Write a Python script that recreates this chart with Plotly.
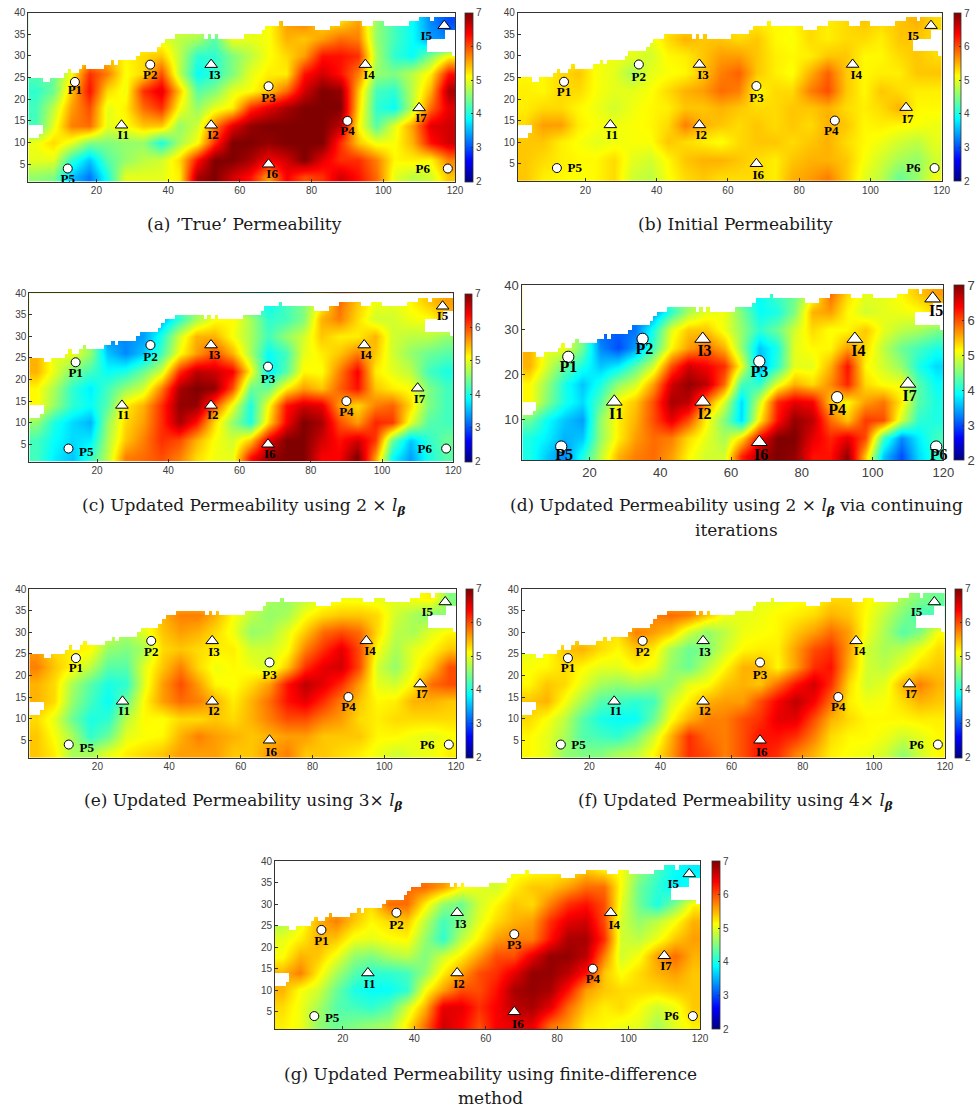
import plotly.graph_objects as go

W, H = 979, 1109

# Estimated field values. Rows run top to bottom, columns left to right.
x_centers = [3, 8, 13, 18, 23, 28, 33, 38, 43, 48, 53, 58, 63, 68, 73, 78, 83, 88, 93, 98, 103, 108, 113, 118]
y_centers = [38, 34, 30, 26, 22, 18, 14, 10, 6, 2]

true_perm = [
    [4.5,4.5,4.5,4.5,4.8,5,5,5,5,5,5,5,5,5.1,5.6,5.75,5.3,5.3,5.6,4.6,4.2,3.9,3.3,3.0],
    [4.5,4.5,4.5,4.8,5.1,5.1,5.0,5.0,4.8,4.7,4.3,5.05,5.0,5.1,5.5,5.4,5.6,5.85,5.75,4.6,4.2,3.9,3.4,3.3],
    [4.5,4.5,5,5.3,5.4,5.15,5.3,5.4,4.8,4.1,4.1,4.5,4.8,5.1,5.3,5.6,6.3,6.3,6.15,4.7,4.1,3.9,4.5,5.1],
    [4.3,4.4,5.1,6.15,5.75,5.1,5.3,6.0,4.8,3.9,4.1,4.5,5.0,5.2,5.2,6.3,6.6,6.3,5.75,4.6,4.5,4.8,5.2,6.3],
    [4.1,4.4,5.4,6.3,5.3,5.05,6.15,6.5,5.4,4.3,4.5,5.0,5.1,5.4,5.85,6.6,7,6.9,5.4,4.2,4.1,4.8,5.5,6.8],
    [4.2,4.8,5.6,6.0,5.0,5.2,5.85,6.15,5.1,4.6,5.0,5.2,6.15,6.5,6.8,7,7,7,5.3,4.1,3.9,4.8,5.85,6.5],
    [4.2,5.0,5.75,5.85,5.0,5.1,5.4,5.4,4.6,4.9,5.75,6.5,6.9,7,7,7,7,6.7,5.15,4.3,5.0,5.6,6.5,6.6],
    [5.05,5.3,5.0,4.5,4.5,4.6,4.6,4.0,4.7,5.1,6.15,7,7,6.9,7,7,7,6.15,5.4,5.05,5.1,5.5,6.3,6.6],
    [5,5,4.1,3.6,4.3,4.6,4.8,4.9,5.3,6.3,7,7,6.8,6.4,6.6,7,6.5,6.15,6.15,5.75,5.15,5.2,5.15,5.75],
    [4.6,4.5,3.6,3.2,4.0,5,5,5,5.2,6.8,7,6.6,6.3,5.6,6.4,6.0,6.15,6.6,6.3,5.85,5,4.8,4.9,5.4],
]
initial_perm = [
    [5.15,5.15,5.15,5.15,5.15,5.15,5.15,5.15,5.15,5.2,5.3,5.3,5.2,5.2,5.15,5.15,5.3,5.2,5.3,5.4,5.3,5.4,5.5,5.3],
    [5.1,5.1,5.1,5.1,5.1,5.1,5.05,5.0,5.3,5.5,5.4,5.4,5.3,5.4,5.15,5.1,5.3,5.2,5.3,5.3,5.2,5.4,5.4,5.3],
    [5.1,5.1,5.1,5.15,5.05,5.05,5.0,4.9,5.15,5.2,5.4,5.6,5.6,5.4,5.2,5.15,5.2,5.4,5.4,5.15,5.15,5.3,5.4,5.3],
    [5.15,5.15,5.3,5.4,5.1,5.0,4.7,5.0,5.1,5.15,5.4,5.75,5.9,5.4,5.2,5.1,5.5,5.9,5.4,5.15,5.2,5.2,5.4,5.4],
    [5.2,5.15,5.3,5.3,5.1,5.0,5.0,5.1,5.3,5.5,5.6,5.85,5.75,5.15,5.3,5.3,5.75,6.0,5.4,5.15,5.4,5.3,5.2,5.2],
    [5.2,5.3,5.3,5.15,5.05,4.9,5.05,5.15,5.2,5.4,5.4,5.5,5.4,5.3,5.3,5.4,5.4,5.5,5.3,5.2,5.3,5.5,5.15,5.15],
    [5.3,5.6,5.6,5.2,5.1,5.05,5.1,5.15,5.3,5.75,5.5,5.4,5.3,5.4,5.3,5.4,5.3,5.5,5.4,5.15,5.2,5.15,5.1,5.05],
    [5.4,5.4,5.2,5.1,5.0,5.05,5.1,5.1,5.4,5.3,5.2,5.1,5.3,5.4,5.4,5.3,5.4,5.5,5.3,5.15,5.05,4.9,4.8,5.0],
    [5.4,5.3,5.2,5.15,5.15,5.3,5.0,4.9,5.15,5.4,5.5,5.5,5.4,5.3,5.2,5.4,5.5,5.5,5.4,5.1,4.9,4.7,4.6,4.9],
    [5.4,5.2,5.15,5.1,5.15,5.3,4.9,4.8,5.1,5.3,5.4,5.3,5.3,5.3,5.2,5.5,5.6,5.75,5.4,5.0,4.8,4.4,4.6,5.05],
]
updated_2x = [
    [5,5,5,5,4.8,4.8,4.5,4.5,4.4,4.5,4.8,4.6,4.0,3.9,4.2,4.5,5.1,5.85,5.4,5.05,5.0,5.15,5.4,5.6],
    [5,5,5,4.8,4.5,4,3.5,3.5,4.1,4.7,5.1,5.15,4.7,4.1,4.2,4.5,5.5,5.75,5.3,4.9,4.9,5.05,5.1,5.4],
    [5,5,5,4.6,3.3,3.3,3.4,4.0,4.9,5.5,5.5,5.1,4.7,4.2,4.6,4.9,5.4,5.2,5.2,5.5,4.9,4.8,4.8,4.6],
    [5.5,5.0,5.05,4.6,3.6,3.3,3.6,4.2,5.1,5.6,6.0,5.5,4.7,3.9,4.2,5.0,5.2,5.4,5.75,5.4,4.9,4.6,4.4,4.3],
    [5.5,5.0,4.5,4.2,3.9,4.0,4.4,4.9,6.15,6.7,6.6,6.4,5.15,3.8,4.3,5.15,5.1,5.75,6.4,5.2,5.0,4.8,4.2,4.0],
    [5.15,4.7,4.1,3.8,4.2,4.6,4.9,5.75,6.8,7,6.9,6.0,4.4,4.4,5.2,5.6,5.4,5.9,6.3,5.4,5.2,5.1,4.5,4.2],
    [5.15,4.6,4.1,3.9,4.3,5.2,5.5,6.15,6.9,6.9,6.0,5.05,4.0,5.1,6.3,6.6,6.5,5.6,5.3,5.75,5.9,5.3,4.5,4.2],
    [4.6,4.0,3.7,3.5,4.6,5.3,5.6,6.15,6.8,6.3,5.3,4.6,4.0,5.3,6.4,7,6.8,6.0,5.6,6.2,6.1,5.0,4.3,4.2],
    [4.2,3.9,3.7,3.8,4.7,5.4,5.75,6.15,6.0,5.5,5.1,4.9,5.4,6.5,7,7,6.6,6.3,6.6,6.1,4.4,3.6,4.1,4.4],
    [4.2,3.8,3.6,4.1,4.8,5.75,5.85,6.0,5.75,5.3,5.05,5.0,6.3,6.9,7,7,6.4,6.4,7,5.6,3.9,3.4,4.0,4.3],
]
updated_2x_cont = [
    [5.15,5,5,5,4.8,4.8,4.5,4.5,4.4,4.5,4.8,4.6,4.0,3.9,4.2,4.4,5.0,5.85,5.3,5.0,5.0,5.15,5.4,5.6],
    [5,5,5,4.8,4.4,3.8,3.2,3.4,4.1,4.7,5.0,5.05,4.5,3.9,4.0,4.5,5.5,5.6,5.15,4.9,5.0,5.05,5.1,5.3],
    [5,5,5,4.5,3.1,3.1,3.2,4.0,5.0,5.4,5.4,5.05,4.6,4.1,4.4,4.9,5.3,5.1,5.15,5.4,5.0,4.8,4.7,4.5],
    [5.5,5.0,5.05,4.4,3.3,3.0,3.4,4.2,5.15,5.6,5.85,5.5,4.6,3.6,4.0,5.0,5.15,5.15,5.6,5.3,4.8,4.4,4.2,4.0],
    [5.5,4.9,4.4,4.0,3.6,3.8,4.3,4.9,6.0,6.6,6.4,6.15,5.05,3.5,4.1,5.0,5.0,5.5,6.3,5.15,4.9,4.6,4.0,3.7],
    [5.15,4.6,4.0,3.6,4.0,4.6,4.9,5.6,6.6,6.9,6.7,5.85,4.2,4.1,5.0,5.5,5.3,5.7,6.2,5.3,5.1,5.05,4.3,3.9],
    [5.15,4.5,4.0,3.7,4.3,5.15,5.4,6.0,6.8,6.7,5.75,4.9,3.7,4.9,6.2,6.5,6.4,5.4,5.15,5.6,5.8,5.2,4.3,4.0],
    [4.4,3.9,3.6,3.4,4.6,5.2,5.5,6.0,6.5,6.0,5.15,4.5,3.7,5.2,6.3,6.9,6.7,5.85,5.4,6.1,6.0,4.9,4.1,4.0],
    [4.0,3.8,3.5,3.6,4.6,5.2,5.6,5.85,5.75,5.3,5.0,4.7,5.3,6.4,7,7,6.5,6.2,6.5,6.0,4.2,3.3,3.8,4.2],
    [4.0,3.6,3.3,4.0,4.8,5.5,5.75,5.85,5.6,5.15,4.9,4.9,6.2,6.8,7,6.9,6.3,6.3,6.9,5.4,3.6,3.0,3.7,4.1],
]
updated_3x = [
    [5.3,5.3,5.3,5.3,5.15,5,5,5,5.3,5.3,5.15,5.0,5.0,4.7,4.6,4.8,5.0,5.05,5.05,5.0,5.0,5.1,5.2,4.5],
    [5.3,5.3,5.3,5.1,5.0,5,5,5.5,5.75,5.75,5.5,5.1,4.8,4.6,4.7,5.1,5.3,5.4,5.4,5.3,4.9,4.7,4.5,4.6],
    [5.3,5.3,5.3,5.1,4.9,4.7,5.0,5.4,5.6,5.5,5.3,5.05,4.6,4.7,5.0,5.4,5.85,6.0,5.85,5.3,4.8,4.7,5.0,5.15],
    [5.6,5.3,5.2,5.15,4.6,4.5,4.7,5.3,5.4,5.3,5.2,5.2,4.9,4.9,5.1,5.75,6.15,6.5,6.0,5.1,4.7,5.0,5.15,5.4],
    [5.75,5.4,5.15,4.8,4.3,4.3,5.0,5.4,5.75,5.3,5.05,5.15,5.05,4.9,5.4,6.15,6.5,6.6,6.0,4.9,4.6,5.05,5.4,6.0],
    [5.5,5.3,4.7,4.3,4.0,4.1,5.0,5.6,6.0,5.6,5.15,5.1,5.3,5.6,6.3,6.7,6.5,6.15,5.6,5.0,4.9,5.2,5.85,6.0],
    [5.5,5.3,4.6,4.2,3.9,4.4,5.15,5.6,5.85,5.75,5.5,5.2,5.5,5.85,6.3,6.5,6.15,5.75,5.4,5.15,5.2,5.5,5.5,5.4],
    [5.3,5.0,4.4,4.0,4.1,4.8,5.15,5.1,5.3,5.3,5.4,5.3,5.5,5.75,6.0,6.0,5.75,5.6,5.3,5.2,5.3,5.3,5.3,5.3],
    [5.4,5.1,4.7,4.1,4.4,5.0,5.1,5.15,5.5,5.75,5.6,5.5,5.4,5.5,5.6,5.6,5.4,5.4,5.4,5.15,5.15,5.05,5.0,5.1],
    [5.4,5.2,4.7,4.7,5.0,5.2,5.3,5.4,5.6,5.6,5.6,5.4,5.4,5.6,5.75,5.4,5.4,5.3,5.2,5.05,4.9,5.0,5.05,5.2],
]
updated_4x = [
    [5.0,5,5,5.1,5.1,5.1,5.1,5.1,5.3,5.6,5.3,5.05,5.0,5.0,5.0,5.1,5.1,5.3,5.3,5.15,5,4.7,4.5,4.4],
    [5.0,5,5,5.1,5.15,5.15,5.3,5.75,5.85,5.75,5.4,5.05,5.0,5.05,5.15,5.2,5.3,5.5,5.4,5.1,4.8,4.5,4.2,4.2],
    [5.0,5,5.1,5.3,5.3,5.3,5.75,5.6,5.4,4.9,4.6,4.8,5.05,5.1,5.15,5.4,5.6,5.85,5.6,5.05,4.7,4.3,4.5,5.1],
    [5.0,5.1,5.4,5.5,5.3,5.15,5.4,5.2,4.7,4.4,4.5,4.9,5.15,5.2,5.2,5.6,6.0,6.15,5.6,4.9,4.7,4.8,5.05,5.3],
    [5.1,5.15,5.3,5.15,5.0,5.0,5.15,5.05,4.6,4.4,4.8,5.15,5.5,5.5,5.15,5.6,6.15,6.3,5.5,4.9,4.8,5.05,5.3,5.4],
    [5.15,5.4,5.3,5.0,4.7,4.6,4.7,4.6,4.6,5.0,5.1,5.4,5.5,5.4,5.85,6.3,6.6,6.15,5.3,4.9,5.0,5.5,5.75,5.5],
    [5.4,5.5,5.1,4.7,4.3,4.2,4.1,4.2,4.9,5.2,5.5,5.6,5.6,6.0,6.4,6.7,6.4,5.85,5.2,5.05,5.1,5.3,5.5,5.4],
    [5.3,5.1,4.8,4.3,4.0,3.9,3.9,4.4,5.1,5.5,5.75,5.75,6.0,6.15,6.5,6.5,6.0,5.5,5.3,5.15,5.15,5.15,5.2,5.2],
    [5.15,5.0,4.7,4.3,4.2,4.1,4.4,4.9,5.5,6.15,5.85,5.75,6.0,6.3,6.3,6.15,5.75,5.3,5.15,5.15,5.05,4.9,5.0,5.15],
    [5.15,5.0,4.6,4.5,4.5,4.7,4.8,5.15,5.6,6.15,6.0,5.75,6.0,6.3,6.15,5.75,5.5,5.2,5.1,5.05,4.9,4.6,4.9,5.15],
]
finite_diff = [
    [4.6,4.6,4.6,5,5.3,5.3,5.3,5.4,5.75,5.85,5.3,5,5,5.05,5.1,5.15,5.2,5.4,5.2,5.1,4.6,4.2,3.9,3.8],
    [4.8,4.8,5,5.2,5.3,5.3,5.4,5.85,5.85,5.6,5.15,5.0,4.9,5.2,5.4,5.4,5.6,5.85,5.85,5.1,4.4,4.1,3.8,4.0],
    [4.8,4.9,5.1,5.5,5.5,5.3,5.85,5.85,5.2,4.6,4.4,4.9,5.15,5.4,5.3,5.75,6.15,6.3,6.0,5.0,4.4,4.0,4.5,5.15],
    [4.7,5.0,5.5,5.75,5.4,5.15,5.3,5.4,4.8,4.2,4.5,5.0,5.3,5.5,5.6,6.15,6.5,6.6,6.0,4.9,4.6,4.8,5.1,5.5],
    [5.0,5.2,5.5,5.4,5.05,5.0,5.1,5.15,4.6,4.1,4.8,5.2,5.6,5.75,5.75,6.3,6.8,6.8,6.15,4.9,4.8,5.05,5.4,5.6],
    [5.1,5.5,5.4,5.05,4.6,4.5,4.7,4.8,4.5,4.9,5.2,5.6,6.0,6.0,6.5,6.9,6.9,6.7,5.75,4.9,5.1,5.6,5.85,5.5],
    [5.5,5.75,5.2,4.7,4.3,4.1,4.1,4.2,4.6,5.2,5.6,6.0,6.15,6.5,6.9,6.9,6.7,6.3,5.4,5.1,5.3,5.5,5.6,5.4],
    [5.5,5.1,4.9,4.4,4.0,3.9,3.9,4.1,5.1,5.6,6.0,6.0,6.3,6.8,6.9,6.8,6.3,5.6,5.4,5.3,5.3,5.3,5.4,5.4],
    [5.3,5.05,4.7,4.3,4.2,4.1,4.3,4.9,5.5,6.5,6.5,6.15,6.4,6.7,6.8,6.5,5.85,5.4,5.2,5.3,5.1,4.9,5.05,5.4],
    [5.2,5.05,4.6,4.4,4.5,4.6,4.7,5.2,5.85,6.6,6.4,6.0,6.4,6.5,6.5,5.85,5.6,5.2,5.15,5.05,5.0,4.7,5.0,5.2],
]

# Top edge of the reservoir for each grid column 1..119, and cut-outs (x0, x1, y0, y1).
top_edge = [25,25,25,25,24,24,25,25,25,25,26,27,26,26,27,28,27,27,27,27,
            27,28,28,29,28,29,29,29,29,29,30,31,31,31,31,31,32,33,34,34,
            34,35,35,35,35,35,35,35,35,34,35,34,35,34,34,34,34,34,34,34,
            35,35,35,35,35,36,37,37,37,37,38,37,37,37,37,37,37,37,37,37,
            36,36,36,36,37,37,37,38,38,38,38,38,38,37,37,37,38,38,38,37,
            37,37,37,37,37,37,38,38,38,39,39,39,38,39,39,39,39,39,39]
holes = [(1, 4, 11, 14), (4, 5, 12, 14), (117, 120, 34, 36), (112, 120, 31, 34), (119, 120, 30, 31)]

well_names = ["P1", "P2", "P3", "P4", "P5", "P6", "I1", "I2", "I3", "I4", "I5", "I6", "I7"]
well_x = [14, 35, 68, 90, 12, 118, 27, 52, 52, 95, 117, 68, 110]
well_y = [24, 28, 23, 15, 4, 4, 14, 14, 28, 28, 37, 5, 18]

x_ticks = [20, 40, 60, 80, 100, 120]
y_ticks_fine = [5, 10, 15, 20, 25, 30, 35, 40]
y_ticks_coarse = [10, 20, 30, 40]
cbar_ticks = [2, 3, 4, 5, 6, 7]

label_a = [(14,22),(35,25.5),(68,20),(90,12.5),(12,1.3),(111,3.8),(27.5,11.5),(52.5,11.5),(53,25.5),(96,25.5),(112,34.5),(69,2.5),(110.5,15.5)]
label_b = [(14,21.5),(35,25),(68,20),(89,12.5),(17,3.8),(112,3.8),(27.5,11.5),(52.5,11.5),(53,25.5),(96,25.5),(112,34.5),(68.5,2.3),(110.5,15.3)]
label_c = [(14,21.3),(35,25),(68,20),(90,12.3),(17,3),(112,3.8),(27.5,11.5),(52.5,11.5),(53,25.5),(95.5,25.5),(117,34.5),(68.5,2.5),(110.5,15.3)]
label_d = [(14,21.5),(35.5,25.5),(68,20.5),(90,12),(12.8,1.9),(118.7,1.9),(27.5,11),(52.5,11),(52.5,25),(96,25),(118,34),(68.5,2),(110.5,15)]
label_e = [(14,21.5),(35,25.3),(68,20),(90,12.5),(17,3),(112,3.8),(27.5,11.5),(52.5,11.5),(52.5,25.3),(96,25.5),(112,34.5),(68.5,2),(110.5,15.5)]
label_f = [(14,21.5),(35,25.3),(68,20),(90,12.5),(17,3.8),(112,3.8),(27.5,11.5),(52.5,11.5),(52.5,25.3),(96,25.5),(112,34.5),(68.5,2),(110.5,15.5)]
label_g = [(14,21.3),(35,25),(68,20.3),(90,12.5),(17,3.3),(112,3.8),(27.5,11.3),(52.5,11.3),(53,25.3),(96,25),(112.5,34.5),(69,2),(110.5,15.5)]

BETA = "<i>l</i><sub><b><i>β</i></b></sub>"
panels = [
    dict(z=true_perm, labels=label_a, box=(28.3, 455, 12.7, 181.5), cb=(465, 7.5), big=False,
         caption=[("(a) ’True’ Permeability", 244, 224)]),
    dict(z=initial_perm, labels=label_b, box=(517.7, 941.7, 12.7, 181), cb=(954, 7), big=False,
         caption=[("(b) Initial Permeability", 735.5, 224)]),
    dict(z=updated_2x, labels=label_c, box=(29.3, 453.3, 293.3, 461.5), cb=(465, 7), big=False,
         caption=[("(c) Updated Permeability using 2 × " + BETA, 243, 506)]),
    dict(z=updated_2x_cont, labels=label_d, box=(522.3, 943.3, 285, 460), cb=(954.3, 9.5), big=True,
         caption=[("(d) Updated Permeability using 2 × " + BETA + " via continuing", 736, 506),
                  ("iterations", 736, 530)]),
    dict(z=updated_3x, labels=label_e, box=(29.3, 456, 589, 757.5), cb=(465.7, 7), big=False,
         caption=[("(e) Updated Permeability using 3× " + BETA, 243, 801)]),
    dict(z=updated_4x, labels=label_f, box=(521.7, 945, 589, 757.5), cb=(955, 7), big=False,
         caption=[("(f) Updated Permeability using 4× " + BETA, 735, 801)]),
    dict(z=finite_diff, labels=label_g, box=(275, 700, 861, 1029), cb=(711.7, 7.5), big=False,
         caption=[("(g) Updated Permeability using finite-difference", 490, 1074),
                  ("method", 490, 1098)]),
]

JET = [[0, "#000080"], [0.125, "#0000ff"], [0.375, "#00ffff"],
       [0.5, "#80ff80"], [0.625, "#ffff00"], [0.875, "#ff0000"], [1, "#800000"]]
TICK_COLOR = "#404040"
LINE_COLOR = "#333333"

# Fixed margins, large enough that colorbars never push the plot area.
ML, MR, MT, MB = 10, 30, 10, 60
PW, PH = W - ML - MR, H - MT - MB


def px(x):
    return (x - ML) / PW


def py(y):
    return 1 - (y - MT) / PH


# Cells outside the reservoir.
mask_x = [i + 0.5 for i in range(1, 120)]
mask_y = [j + 0.5 for j in range(1, 40)]
mask_z = []
for j in range(1, 40):
    row = []
    for i in range(1, 120):
        out = j + 1 > top_edge[i - 1] or any(a <= i < b and c <= j < d for a, b, c, d in holes)
        row.append(1 if out else None)
    mask_z.append(row)

fig = go.Figure()
layout = dict(width=W, height=H, autosize=False, paper_bgcolor="white", plot_bgcolor="white",
              margin=dict(l=ML, r=MR, t=MT, b=MB, pad=0, autoexpand=False), showlegend=False)
annotations = []

for k, p in enumerate(panels, start=1):
    x0, x1, y0, y1 = p["box"]
    tick_size = 13 if p["big"] else 10
    ax = "" if k == 1 else str(k)
    xref, yref = "x" + ax, "y" + ax
    ca = "coloraxis" + ax
    cb_left, cb_w = p["cb"]
    layout["xaxis" + ax] = dict(
        domain=[px(x0), px(x1)], range=[1, 120], anchor=yref, tickvals=x_ticks,
        ticks="inside", ticklen=3, tickwidth=0.6, tickcolor=LINE_COLOR, showgrid=False, zeroline=False,
        showline=True, mirror=True, linecolor=LINE_COLOR, linewidth=0.8,
        tickfont=dict(family="Liberation Sans", size=tick_size, color=TICK_COLOR))
    layout["yaxis" + ax] = dict(
        domain=[py(y1), py(y0)], range=[1, 40], anchor=xref,
        tickvals=y_ticks_coarse if p["big"] else y_ticks_fine,
        ticks="inside", ticklen=3, tickwidth=0.6, tickcolor=LINE_COLOR, showgrid=False, zeroline=False,
        showline=True, mirror=True, linecolor=LINE_COLOR, linewidth=0.8,
        tickfont=dict(family="Liberation Sans", size=tick_size, color=TICK_COLOR))
    layout[ca] = dict(
        cmin=2, cmax=7, colorscale=JET,
        colorbar=dict(x=px(cb_left), xref="paper", xanchor="left", xpad=0, ypad=0,
                      y=py(y1), yref="paper", yanchor="bottom", len=(y1 - y0) / PH, lenmode="fraction",
                      thickness=cb_w, thicknessmode="pixels", tickvals=cbar_ticks,
                      ticks="inside", ticklen=2, tickwidth=0.6, tickcolor=LINE_COLOR,
                      outlinecolor=LINE_COLOR, outlinewidth=0.8, ticklabelposition="outside",
                      tickfont=dict(family="Liberation Sans", size=tick_size, color=TICK_COLOR)))
    fig.add_trace(go.Heatmap(x=x_centers, y=y_centers, z=p["z"], coloraxis=ca, zsmooth="best",
                             xaxis=xref, yaxis=yref, hoverinfo="skip"))
    fig.add_trace(go.Heatmap(x=mask_x, y=mask_y, z=mask_z, zmin=0, zmax=1, showscale=False,
                             colorscale=[[0, "white"], [1, "white"]], xaxis=xref, yaxis=yref, hoverinfo="skip"))
    msize = 1.25 if p["big"] else 1.0
    for symbol, names, size in (("circle", "P", 9), ("triangle-up", "I", 11)):
        idx = [i for i, n in enumerate(well_names) if n[0] == names]
        fig.add_trace(go.Scatter(
            x=[well_x[i] for i in idx], y=[well_y[i] for i in idx], mode="markers", xaxis=xref, yaxis=yref,
            marker=dict(symbol=symbol, size=size * msize, color="white", line=dict(color="black", width=1)),
            cliponaxis=False, hoverinfo="skip"))
    fig.add_trace(go.Scatter(
        x=[q[0] for q in p["labels"]], y=[q[1] for q in p["labels"]], text=well_names, mode="text",
        textposition="middle center", xaxis=xref, yaxis=yref, cliponaxis=False, hoverinfo="skip",
        texttemplate="<b>%{text}</b>",
        textfont=dict(family="Liberation Serif", size=16 if p["big"] else 13, color="black")))
    for text, cx, cy in p["caption"]:
        annotations.append(dict(text=text, x=px(cx), y=py(cy), xref="paper", yref="paper",
                                xanchor="center", yanchor="middle", showarrow=False,
                                font=dict(family="DejaVu Serif", size=17, color="#1a1a1a")))

layout["annotations"] = annotations
fig.update_layout(**layout)
fig.write_html("out.html", config={"displayModeBar": False},
               post_script="document.body.style.margin='0';document.body.style.overflow='hidden';")
